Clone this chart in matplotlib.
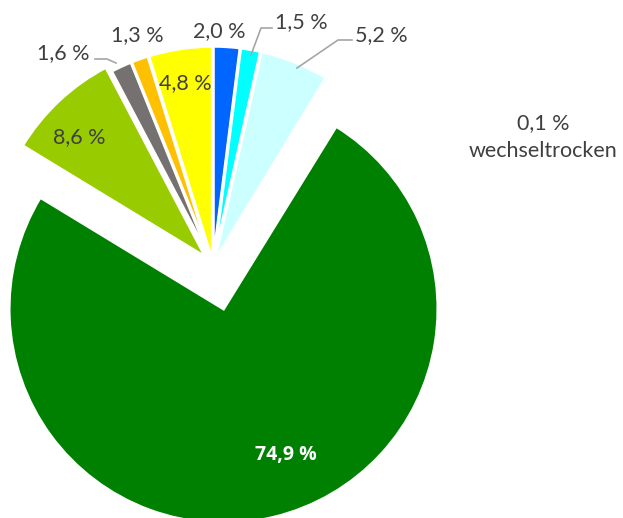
import matplotlib
matplotlib.use("Agg")
import matplotlib.pyplot as plt
from matplotlib.lines import Line2D

# Anteile (Uhrzeigersinn ab 12 Uhr)
kategorien = ["sehr nass", "nass", "feucht", "wechseltrocken", "frisch",
              "mäßig frisch", "trocken", "sehr trocken", "mäßig trocken"]
anteile = [2.0, 1.5, 5.2, 0.1, 74.9, 8.6, 1.6, 1.3, 4.8]
farben = ["#0066FF", "#00FFFF", "#CCFFFF", "#9DC3E6", "#008000",
          "#99CC00", "#767171", "#FFC000", "#FFFF00"]
abstand = [0.02, 0.02, 0.02, 0.02, 0.21, 0.05, 0.02, 0.02, 0.02]

W, H = 623, 518
R_PX = 214.5
CX, CY = 213, 265

fig = plt.figure(figsize=(W / 100, H / 100), dpi=100)
ax = fig.add_axes([0, 0, 1, 1])
ax.pie(anteile, colors=farben, explode=abstand, startangle=90,
       counterclock=False, radius=1.0,
       wedgeprops=dict(edgecolor="white", linewidth=2.2))
ax.set_aspect("auto")
xmin = -CX / R_PX
ax.set_xlim(xmin, xmin + W / R_PX)
ymax = CY / R_PX
ax.set_ylim(ymax - H / R_PX, ymax)
ax.axis("off")

txt = "#404040"
fam = ["Lato", "DejaVu Sans"]


def px(x, y):
    return x / W, 1 - y / H


def label(x, y, s, **kw):
    opts = dict(ha="center", va="center", fontsize=15.5, color=txt, family=fam)
    opts.update(kw)
    fig.text(*px(x, y), s, **opts)


def leader(pts):
    xs = [p[0] / W for p in pts]
    ys = [1 - p[1] / H for p in pts]
    fig.add_artist(Line2D(xs, ys, color="#A6A6A6", linewidth=1.2))


def fmt(v):
    return f"{v:.1f}".replace(".", ",") + " %"


label(219, 31, fmt(anteile[0]))
label(301, 22, fmt(anteile[1]))
label(381, 35, fmt(anteile[2]))
label(543, 137, fmt(anteile[3]) + "\n" + kategorien[3], linespacing=1.5)
label(286, 455, fmt(anteile[4]), color="white", fontweight="bold",
      family=["Open Sans", "DejaVu Sans"], fontsize=14)
label(79, 137, fmt(anteile[5]))
label(63, 53, fmt(anteile[6]))
label(137, 35, fmt(anteile[7]))
label(185, 83, fmt(anteile[8]))

leader([(251, 55), (261, 28), (272, 28)])
leader([(297, 68), (338, 40), (352, 40)])
leader([(95, 59), (107, 59), (116, 63)])

fig.savefig("out.png", dpi=100)
